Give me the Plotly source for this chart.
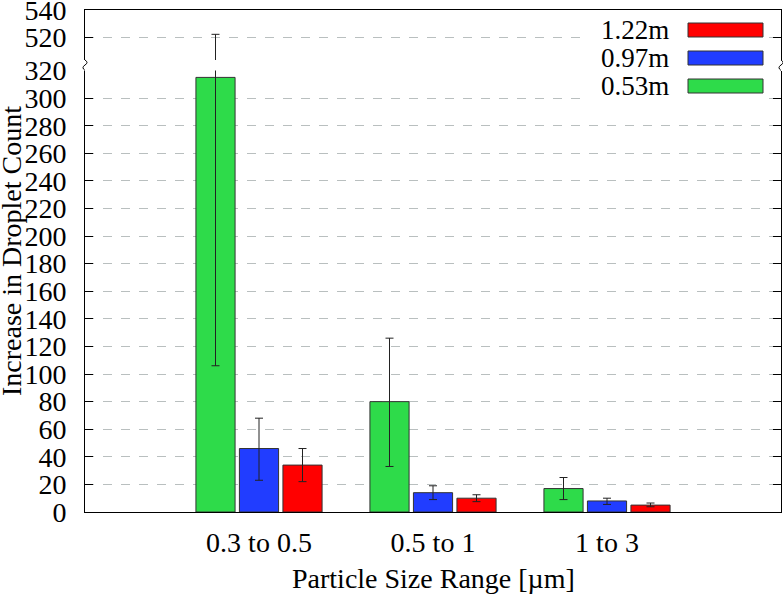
import plotly.graph_objects as go

# category positions on a numeric x axis (range 0..4)
categories = ["0.3 to 0.5", "0.5 to 1", "1 to 3"]
cat_pos = [1, 2, 3]

series_names = ["0.53m", "0.97m", "1.22m"]
series_colors = ["#2edb4a", "#213dff", "#ff0000"]

vals_053 = [315, 80, 17]
hi_053 = [522, 126, 25]
lo_053 = [106, 33, 9]

vals_097 = [46, 14, 8]
hi_097 = [68, 19, 10]
lo_097 = [23, 9, 5.5]

vals_122 = [34, 10, 5]
hi_122 = [46, 12.5, 6.5]
lo_122 = [22, 7.5, 3.8]

series_vals = [vals_053, vals_097, vals_122]
series_hi = [hi_053, hi_097, hi_122]
series_lo = [lo_053, lo_097, lo_122]

FONT = "'Liberation Serif', 'Times New Roman', 'DejaVu Serif', serif"
W, H = 783, 598
L, R, T, B = 85, 2, 10, 86
PW, PH = W - L - R, H - T - B


def px(x):
    return (x - L) / PW


def py(y):
    return (H - B - y) / PH


fig = go.Figure()
for xa, ya in [("x", "y"), ("x2", "y2")]:
    for name, col, v, hi, lo in zip(series_names, series_colors, series_vals, series_hi, series_lo):
        fig.add_trace(go.Bar(
            x=cat_pos, y=v, name=name, xaxis=xa, yaxis=ya,
            marker=dict(color=col, line=dict(color="#333333", width=1)),
            error_y=dict(type="data", symmetric=False,
                         array=[h - a for h, a in zip(hi, v)],
                         arrayminus=[a - l for l, a in zip(lo, v)],
                         color="#222222", thickness=1, width=4),
            showlegend=False, hoverinfo="skip",
        ))

low_top = py(70.5)
up_bot = py(60)

axis_common = dict(showline=True, linecolor="black", linewidth=1,
                   ticks="inside", ticklen=8, tickcolor="black",
                   mirror="ticks", showgrid=True, gridcolor="#b9bfbf",
                   griddash="dash", gridwidth=1, zeroline=False,
                   tickfont=dict(family=FONT, size=28, color="black"),
                   ticklabelstandoff=12, dtick=20, tick0=0, automargin=False,
                   ticklabeloverflow="allow")

fig.update_layout(
    width=W, height=H,
    margin=dict(l=L, r=R, t=T, b=B, autoexpand=False),
    paper_bgcolor="white", plot_bgcolor="white",
    barmode="group", bargap=0.25, bargroupgap=0.1,
    font=dict(family=FONT, size=28, color="black"),
    xaxis=dict(range=[0, 4], tickvals=cat_pos, ticktext=categories,
               showline=True, linecolor="black", linewidth=1, ticks="",
               showgrid=False, zeroline=False, anchor="y", automargin=False,
               tickfont=dict(family=FONT, size=28, color="black"),
               ticklabelstandoff=5, ticklabeloverflow="allow"),
    xaxis2=dict(range=[0, 4], matches="x", anchor="y2", side="top",
                showline=True, linecolor="black", linewidth=1, ticks="",
                showticklabels=False, showgrid=False, zeroline=False,
                automargin=False),
    yaxis=dict(domain=[0, low_top], range=[0, 320], anchor="x", **axis_common),
    yaxis2=dict(domain=[up_bot, 1], range=[503, 540], anchor="x2", **axis_common),
)

shapes = []
# white box behind legend
shapes.append(dict(type="rect", xref="paper", yref="paper",
                   x0=px(583), x1=px(766), y0=py(104), y1=py(12),
                   fillcolor="white", line=dict(width=0), layer="above"))
# legend swatches
sw_y = [86, 58, 30]
for col, yc in zip(series_colors, sw_y):
    shapes.append(dict(type="rect", xref="paper", yref="paper",
                       x0=px(688), x1=px(763), y0=py(yc + 7), y1=py(yc - 7),
                       fillcolor=col, line=dict(color="#333333", width=1),
                       layer="above"))
# axis break marks
for xb in [85, 781]:
    shapes.append(dict(type="path", xref="paper", yref="paper",
                       path=f"M {px(xb)},{py(60)} Q {px(xb+4)},{py(62.5)} {px(xb)},{py(65)} "
                            f"Q {px(xb-4)},{py(67.5)} {px(xb)},{py(70.5)}",
                       line=dict(color="black", width=1)))
fig.update_layout(shapes=shapes)

annotations = []
for name, yc in zip(series_names, sw_y):
    annotations.append(dict(text=name, xref="paper", yref="paper",
                            x=px(671), y=py(yc), xanchor="right", yanchor="middle",
                            showarrow=False, font=dict(family=FONT, size=27)))
annotations.append(dict(text="Increase in Droplet Count", xref="paper", yref="paper",
                        x=px(11), y=py(251), textangle=-90, xanchor="center",
                        yanchor="middle", showarrow=False,
                        font=dict(family=FONT, size=28)))
annotations.append(dict(text="Particle Size Range [µm]", xref="paper", yref="paper",
                        x=px(433), y=py(579), xanchor="center", yanchor="middle",
                        showarrow=False, font=dict(family=FONT, size=28)))
fig.update_layout(annotations=annotations)

fig.write_html("out.html", config={"displayModeBar": False},
               post_script="document.body.style.margin='0';")
